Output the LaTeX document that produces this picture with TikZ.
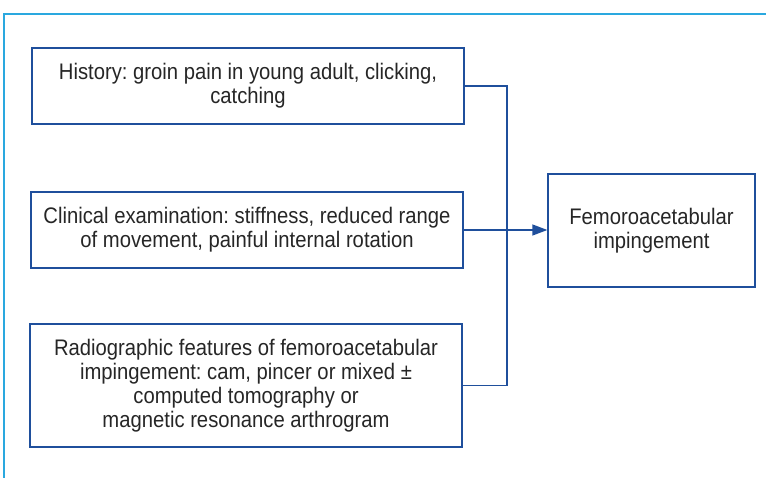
\documentclass[tikz,border=0pt]{standalone}
\usepackage{fontspec}
\setmainfont{Liberation Sans}[FakeStretch=0.9]
\usetikzlibrary{positioning,arrows.meta}
\definecolor{framecyan}{HTML}{2AA8DF}
\definecolor{boxblue}{HTML}{1F4F9C}
\tikzset{
  findbox/.style={draw=boxblue, line width=1.3pt, align=center, inner sep=0pt,
    text=black!85, font=\fontsize{22.5}{24}\selectfont},
  flow/.style={-{Triangle[length=15pt, width=11pt]}, line width=1.3pt, draw=boxblue},
  link/.style={line width=1.3pt, draw=boxblue},
}
\frenchspacing

\begin{document}
\begin{tikzpicture}[x=1pt, y=-1pt]
\useasboundingbox (0,0) rectangle (766,478);
% outer frame
\draw[framecyan, line width=2pt] (766,14) -- (4,14) -- (4,478);
% findings
\node[findbox, minimum width=432pt, minimum height=76pt] (hist) at (248,86)
  {History: groin pain in young adult, clicking,\\catching};
\node[findbox, minimum width=432pt, minimum height=76pt] (exam) at (247,230)
  {Clinical examination: stiffness, reduced range\\of movement, painful internal rotation};
\node[findbox, minimum width=432pt, minimum height=123pt] (xray) at (246,385.5)
  {Radiographic features of femoroacetabular\\impingement: cam, pincer or mixed ±\\computed tomography or\\magnetic resonance arthrogram};
% diagnosis
\node[findbox, minimum width=207pt, minimum height=113pt] (fai) at (651.5,230.5)
  {Femoroacetabular\\impingement};
% connectors
\coordinate (join) at (507,86);
\draw[link] (hist.east) -- (join) |- (xray.east);
\draw[flow] (exam.east) -- (exam.east -| fai.west);
\end{tikzpicture}
\end{document}
